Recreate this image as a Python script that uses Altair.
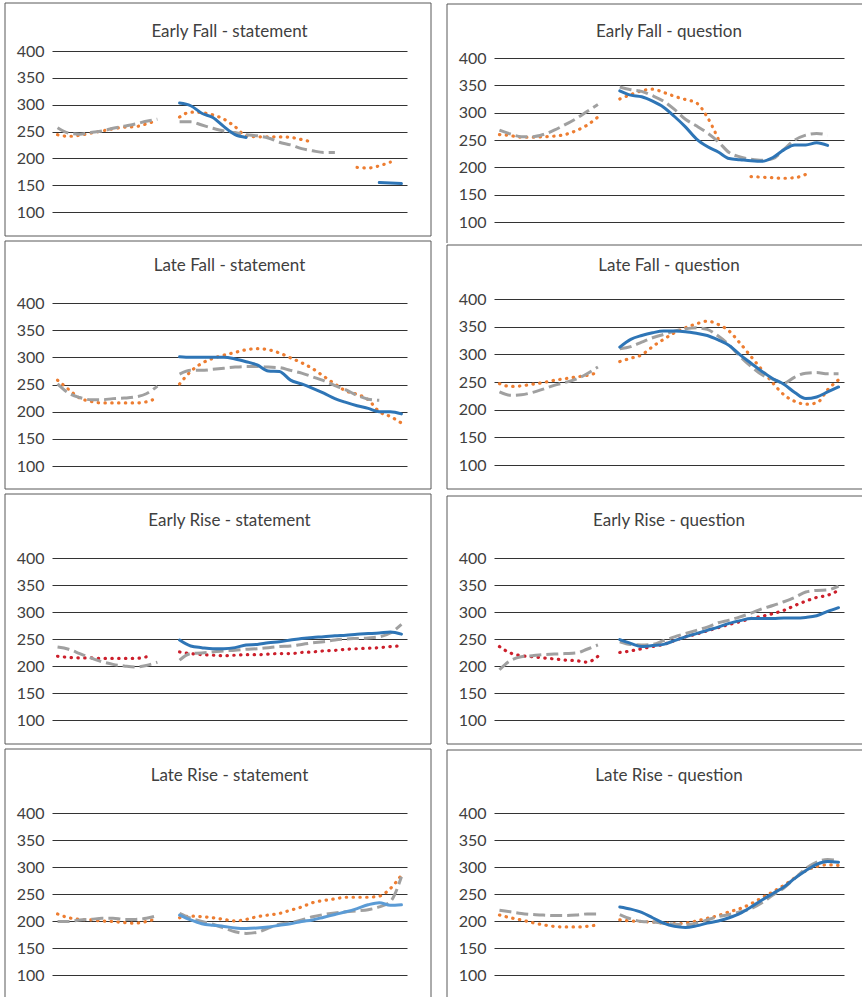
import altair as alt
import pandas as pd

_ = None  # gap between contour segments

# F0 contours (Hz) sampled at 32 normalised time points; None marks a gap
EARLY_FALL_STATEMENT_BLUE = [_, _, _, _, _, _, _, _, _, _, _, 303, 298, 284, 276, 259, 244, 239, _, _, _, _, _, _, _, _, _, _, _, 155, 154, 153]
EARLY_FALL_STATEMENT_ORANGE = [244, 241, 243, 247, 251, 255, 258, 259, 264, 271, _, 277, 286, 285, 281, 273, 259, 242, 240, 240, 240, 239, 235, 230, _, _, _, 183, 182, 186, 193, _]
EARLY_FALL_STATEMENT_GRAY = [257, 247, 245, 248, 251, 256, 260, 264, 269, 273, _, 268, 268, 262, 256, 251, 248, 244, 242, 238, 230, 225, 218, 214, 211, 211, _, _, _, _, _, _]

EARLY_FALL_QUESTION_BLUE = [_, _, _, _, _, _, _, _, _, _, _, 340, 332, 329, 321, 310, 293, 274, 252, 238, 228, 216, 214, 212, 211, 218, 232, 241, 241, 245, 240, _]
EARLY_FALL_QUESTION_ORANGE = [260, 258, 255, 255, 256, 257, 260, 267, 277, 292, _, 325, 333, 340, 343, 337, 330, 324, 318, 292, 252, _, _, 183, 182, 181, 180, 181, 187, _, _, _]
EARLY_FALL_QUESTION_GRAY = [268, 261, 256, 256, 260, 268, 278, 289, 302, 315, _, 347, 342, 339, 331, 321, 306, 288, 276, 263, 247, 227, 219, 215, 213, 216, 233, 250, 259, 262, 259, _]

LATE_FALL_STATEMENT_BLUE = [_, _, _, _, _, _, _, _, _, _, _, 301, 300, 300, 300, 300, 297, 292, 286, 275, 274, 258, 251, 243, 234, 224, 217, 211, 206, 200, 200, 196]
LATE_FALL_STATEMENT_ORANGE = [258, 241, 225, 219, 216, 216, 216, 216, 218, 226, _, 251, 274, 289, 298, 304, 309, 314, 316, 314, 308, 299, 290, 279, 265, 251, 238, 232, 222, 200, 191, 179]
LATE_FALL_STATEMENT_GRAY = [251, 234, 226, 222, 222, 224, 225, 227, 233, 247, _, 269, 276, 276, 278, 280, 282, 283, 283, 282, 281, 276, 271, 264, 257, 248, 240, 230, 223, 221, _, _]

LATE_FALL_QUESTION_BLUE = [_, _, _, _, _, _, _, _, _, _, _, 313, 327, 334, 339, 342, 342, 341, 338, 334, 326, 316, 299, 284, 269, 256, 246, 231, 220, 223, 232, 241]
LATE_FALL_QUESTION_ORANGE = [247, 242, 243, 246, 249, 253, 256, 259, 262, 267, _, 287, 293, 299, 314, 327, 339, 348, 355, 360, 354, 342, 320, 296, 272, 248, 227, 215, 210, 212, 236, 254]
LATE_FALL_QUESTION_GRAY = [232, 226, 227, 231, 237, 244, 249, 255, 265, 277, _, 310, 314, 322, 330, 336, 342, 346, 348, 345, 333, 317, 296, 278, 263, 255, 248, 259, 266, 267, 265, 265]

EARLY_RISE_STATEMENT_BLUE = [_, _, _, _, _, _, _, _, _, _, _, 248, 237, 234, 232, 232, 234, 239, 240, 243, 245, 248, 251, 253, 254, 256, 257, 259, 260, 261, 263, 259]
EARLY_RISE_STATEMENT_RED = [218, 216, 215, 215, 214, 214, 214, 214, 217, _, _, 226, 223, 221, 220, 219, 220, 221, 221, 222, 223, 223, 225, 226, 228, 229, 231, 232, 233, 234, 236, 237]
EARLY_RISE_STATEMENT_GRAY = [235, 231, 223, 215, 208, 203, 200, 198, 201, 207, _, 211, 223, 224, 226, 228, 229, 231, 232, 234, 236, 237, 240, 243, 245, 248, 250, 251, 252, 254, 261, 277]

EARLY_RISE_QUESTION_BLUE = [_, _, _, _, _, _, _, _, _, _, _, 249, 242, 236, 238, 240, 247, 254, 260, 266, 272, 279, 284, 288, 288, 288, 289, 289, 290, 293, 301, 308]
EARLY_RISE_QUESTION_RED = [236, 224, 219, 217, 215, 213, 211, 210, 207, 218, _, 225, 228, 232, 236, 240, 247, 254, 259, 265, 271, 277, 282, 288, 292, 297, 303, 312, 320, 327, 331, 340]
EARLY_RISE_QUESTION_GRAY = [193, 210, 217, 219, 221, 222, 223, 224, 231, 239, _, 245, 240, 239, 240, 247, 254, 260, 266, 272, 280, 285, 291, 298, 306, 312, 319, 327, 337, 340, 341, 348]

LATE_RISE_STATEMENT_BLUE = [_, _, _, _, _, _, _, _, _, _, _, 211, 202, 195, 192, 190, 187, 186, 187, 189, 192, 195, 199, 202, 207, 212, 217, 223, 230, 234, 229, 230]
LATE_RISE_STATEMENT_ORANGE = [213, 206, 203, 202, 200, 199, 197, 196, 199, 205, _, 206, 209, 208, 206, 203, 200, 203, 208, 211, 214, 220, 226, 234, 238, 241, 244, 244, 244, 246, 260, 285]
LATE_RISE_STATEMENT_GRAY = [199, 199, 202, 203, 205, 205, 203, 203, 205, 210, _, 214, 205, 199, 194, 187, 180, 177, 179, 187, 194, 197, 202, 208, 212, 215, 217, 219, 221, 226, 236, 282]

LATE_RISE_QUESTION_BLUE = [_, _, _, _, _, _, _, _, _, _, _, 226, 222, 216, 206, 196, 190, 188, 191, 196, 200, 206, 214, 226, 239, 251, 263, 279, 293, 305, 310, 309]
LATE_RISE_QUESTION_ORANGE = [211, 206, 202, 197, 193, 190, 189, 189, 190, 193, _, 202, 200, 199, 198, 196, 195, 196, 200, 205, 210, 217, 223, 232, 243, 254, 266, 280, 293, 301, 304, 303]
LATE_RISE_QUESTION_GRAY = [220, 217, 214, 212, 211, 210, 210, 211, 213, 213, _, 212, 204, 199, 198, 196, 194, 193, 196, 202, 208, 212, 217, 223, 234, 248, 261, 279, 297, 309, 314, 312]

TICKS = [100, 150, 200, 250, 300, 350, 400]

# line styles: colour, width, dash pattern, cap
STYLES = {
    "blue": {"color": "#2E75B6", "strokeWidth": 3, "strokeCap": "round"},
    "lightblue": {"color": "#5B9BD5", "strokeWidth": 3, "strokeCap": "round"},
    "orange": {"color": "#ED7D31", "strokeWidth": 3.2, "strokeCap": "round", "strokeDash": [0.4, 6.4]},
    "red": {"color": "#CC1F2B", "strokeWidth": 3.2, "strokeCap": "round", "strokeDash": [0.4, 6.4]},
    "gray": {"color": "#A0A0A0", "strokeWidth": 3, "strokeCap": "butt", "strokeDash": [12, 5]},
}
DRAW_ORDER = ["orange", "red", "gray", "blue", "lightblue"]

FONT = "Lato"
TEXT_COLOR = "#404040"
FRAME_COLOR = "#595959"
GRID_COLOR = "#333333"
PAGE_RIGHT = 862

# page layout: two columns, four rows; each panel occupies a vertical slot
LEFT = {"plot_left": 52, "width": 355, "frame_left": 5, "frame_right": 431}
RIGHT = {"plot_left": 494, "width": 350, "frame_left": 447, "frame_right": None}
LEFT_ROWS = [
    {"y400": 51, "y100": 212, "frame_top": 3, "frame_bottom": 236, "slot_top": 2, "slot_bottom": 240, "title_y": 31.5},
    {"y400": 303, "y100": 466, "frame_top": 241, "frame_bottom": 489, "slot_top": 240, "slot_bottom": 493, "title_y": 266},
    {"y400": 558, "y100": 720, "frame_top": 494, "frame_bottom": 744, "slot_top": 493, "slot_bottom": 748, "title_y": 520.5},
    {"y400": 813, "y100": 975, "frame_top": 749, "frame_bottom": None, "slot_top": 748, "slot_bottom": 998, "title_y": 775.5},
]
RIGHT_ROWS = [
    {"y400": 58, "y100": 222, "frame_top": 4, "frame_bottom": None, "slot_top": 2, "slot_bottom": 244, "title_y": 31.5},
    {"y400": 299, "y100": 465, "frame_top": 245, "frame_bottom": 489, "slot_top": 244, "slot_bottom": 495, "title_y": 266},
    {"y400": 558, "y100": 720, "frame_top": 496, "frame_bottom": 744, "slot_top": 495, "slot_bottom": 749, "title_y": 520.5},
    {"y400": 813, "y100": 975, "frame_top": 750, "frame_bottom": None, "slot_top": 749, "slot_bottom": 998, "title_y": 775.5},
]

PANELS_LEFT = [
    ("Early Fall - statement", [("orange", EARLY_FALL_STATEMENT_ORANGE), ("gray", EARLY_FALL_STATEMENT_GRAY), ("blue", EARLY_FALL_STATEMENT_BLUE)]),
    ("Late Fall - statement", [("orange", LATE_FALL_STATEMENT_ORANGE), ("gray", LATE_FALL_STATEMENT_GRAY), ("blue", LATE_FALL_STATEMENT_BLUE)]),
    ("Early Rise - statement", [("red", EARLY_RISE_STATEMENT_RED), ("gray", EARLY_RISE_STATEMENT_GRAY), ("blue", EARLY_RISE_STATEMENT_BLUE)]),
    ("Late Rise - statement", [("orange", LATE_RISE_STATEMENT_ORANGE), ("gray", LATE_RISE_STATEMENT_GRAY), ("lightblue", LATE_RISE_STATEMENT_BLUE)]),
]
PANELS_RIGHT = [
    ("Early Fall - question", [("orange", EARLY_FALL_QUESTION_ORANGE), ("gray", EARLY_FALL_QUESTION_GRAY), ("blue", EARLY_FALL_QUESTION_BLUE)]),
    ("Late Fall - question", [("orange", LATE_FALL_QUESTION_ORANGE), ("gray", LATE_FALL_QUESTION_GRAY), ("blue", LATE_FALL_QUESTION_BLUE)]),
    ("Early Rise - question", [("red", EARLY_RISE_QUESTION_RED), ("gray", EARLY_RISE_QUESTION_GRAY), ("blue", EARLY_RISE_QUESTION_BLUE)]),
    ("Late Rise - question", [("orange", LATE_RISE_QUESTION_ORANGE), ("gray", LATE_RISE_QUESTION_GRAY), ("blue", LATE_RISE_QUESTION_BLUE)]),
]

ONE_ROW = pd.DataFrame({"k": [0]})


def contour_table(values):
    """Long table of one contour; every run of values between gaps is its own segment."""
    rows, seg = [], 0
    for t, v in enumerate(values):
        if v is None:
            seg += 1
            continue
        rows.append({"t": t, "f0": v, "seg": seg})
    return pd.DataFrame(rows)


def rule(x1, y1, x2, y2, opacity=1.0):
    return alt.Chart(ONE_ROW).mark_rule(
        color=FRAME_COLOR, strokeWidth=1, strokeOpacity=opacity
    ).encode(x=alt.value(x1), x2=alt.value(x2), y=alt.value(y1), y2=alt.value(y2))


def make_panel(title, series, col, row):
    pl, top = col["plot_left"], row["slot_top"]
    w = col["width"]
    h = row["slot_bottom"] - row["slot_top"]

    x_enc = alt.X("t:Q", scale=alt.Scale(domain=[-0.5, 31.5], nice=False, zero=False), axis=None)
    y_enc = alt.Y(
        "f0:Q",
        scale=alt.Scale(domain=[100, 400], range=[row["y100"] - top, row["y400"] - top], nice=False, zero=False),
        axis=alt.Axis(
            values=TICKS, title=None, grid=True, domain=False, ticks=False,
            labelPadding=8, labelFont=FONT, labelFontSize=16, labelColor=TEXT_COLOR,
            gridColor=GRID_COLOR, gridWidth=1, labelFlush=False,
        ),
    )

    ordered = sorted(series, key=lambda s: DRAW_ORDER.index(s[0]))
    layers = []
    for key, values in ordered:
        st = STYLES[key]
        props = {k: v for k, v in st.items() if k != "color"}
        layers.append(
            alt.Chart(contour_table(values))
            .mark_line(color=st["color"], interpolate="monotone", strokeJoin="round", **props)
            .encode(x=x_enc, y=y_enc, detail="seg:N")
        )

    # panel frame
    fl = col["frame_left"] - pl
    fr = (col["frame_right"] if col["frame_right"] is not None else PAGE_RIGHT) - pl
    ft = row["frame_top"] - top
    fb = row["frame_bottom"] - top if row["frame_bottom"] is not None else None
    side_end = fb if fb is not None else h - 1
    layers.append(rule(fl, ft, fr, ft))
    layers.append(rule(fl, ft, fl, side_end))
    if fb is not None:
        layers.append(rule(fl, fb, fr, fb))
    if col["frame_right"] is not None:
        layers.append(rule(fr, ft, fr, side_end))
    # invisible extent of the panel's slot in its column
    layers.append(rule(fl, 0, fl, h, opacity=0))

    layers.append(
        alt.Chart(pd.DataFrame({"label": [title]}))
        .mark_text(font=FONT, fontSize=17, color=TEXT_COLOR, align="center", baseline="middle")
        .encode(x=alt.value(w / 2), y=alt.value(row["title_y"] - top), text="label:N")
    )

    return alt.layer(*layers).properties(width=w, height=h)


left_col = alt.vconcat(
    *[make_panel(t, s, LEFT, r) for (t, s), r in zip(PANELS_LEFT, LEFT_ROWS)], spacing=0
)
right_col = alt.vconcat(
    *[make_panel(t, s, RIGHT, r) for (t, s), r in zip(PANELS_RIGHT, RIGHT_ROWS)], spacing=0
)

chart = (
    alt.hconcat(left_col, right_col, spacing=14)
    .properties(padding={"left": 4, "top": 2, "right": 0, "bottom": 0}, background="white")
    .configure_view(strokeWidth=0)
)

chart.save("out.html", embed_options={"renderer": "svg", "actions": False})
